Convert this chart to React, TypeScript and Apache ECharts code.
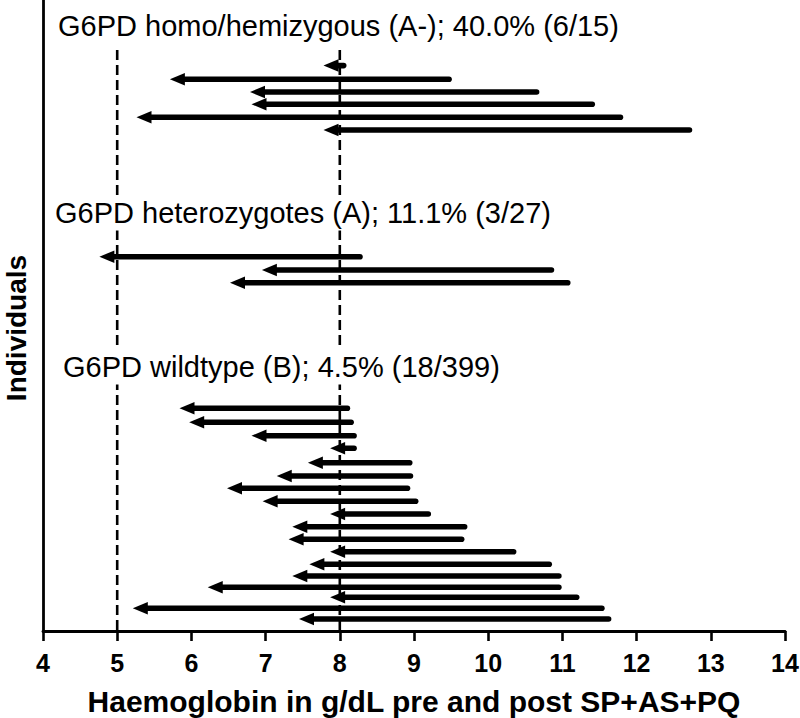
import React, { useEffect, useRef } from "react";
import * as echarts from "echarts";

// Each individual: pre-treatment Hb (arrow tail), post-treatment Hb (arrow head),
// and vertical position of the individual's row (axis units, 0 = x axis).
const homoPost = [7.78, 5.71, 6.79, 6.81, 5.26, 7.78];
const homoPre = [8.09, 9.51, 10.69, 11.44, 11.82, 12.75];
const homoRows = [56.54, 55.17, 53.9, 52.67, 51.37, 50.1];

const hetPost = [4.76, 6.95, 6.52];
const hetPre = [8.31, 10.89, 11.11];
const hetRows = [37.43, 36.1, 34.83];

const wildPost = [5.84, 5.97, 6.81, 7.87, 7.57, 7.15, 6.48, 6.96, 7.87, 7.36, 7.31, 7.87, 7.59, 7.36, 6.22, 7.87, 5.21, 7.45];
const wildPre = [8.14, 8.19, 8.23, 8.23, 8.98, 8.99, 8.95, 9.06, 9.23, 9.72, 9.68, 10.38, 10.86, 10.99, 10.99, 11.23, 11.57, 11.66];
const wildRows = [22.27, 20.87, 19.53, 18.27, 16.83, 15.5, 14.27, 12.97, 11.7, 10.43, 9.17, 7.93, 6.67, 5.5, 4.37, 3.37, 2.27, 1.2];

const groupLabels = [
  "G6PD homo/hemizygous (A-); 40.0% (6/15)",
  "G6PD heterozygotes (A); 11.1% (3/27)",
  "G6PD wildtype (B); 4.5% (18/399)",
];
const thresholds = [5, 8];
const thresholdTop = 58.1;
const xTicks = { min: 4, max: 14, interval: 1 };
const yRange = { min: 0, max: 63.1 };

export default function App() {
  const ref = useRef<HTMLDivElement>(null);
  useEffect(() => {
    if (!ref.current) return;
    const chart = echarts.init(ref.current, null, { renderer: "svg" });
    const rows: number[][] = [];
    const add = (post: number[], pre: number[], ys: number[]) => {
      post.forEach((p, i) => rows.push([pre[i], p, ys[i]]));
    };
    add(homoPost, homoPre, homoRows);
    add(hetPost, hetPre, hetRows);
    add(wildPost, wildPre, wildRows);

    const LW = 5.6;
    const HL = 15;
    const HW = 12.5;
    const FONT = "'Liberation Sans', Arial, sans-serif";

    const labelStyle = (text: string) => ({
      text,
      fill: "#000",
      font: `29px ${FONT}`,
      textVerticalAlign: "middle",
      backgroundColor: "#fff",
      padding: [3, 2, 3, 2],
    });

    const option: any = {
      animation: false,
      grid: { left: 43, right: 15, top: 0, bottom: 87, containLabel: false, outerBoundsMode: "none" },
      xAxis: {
        type: "value",
        min: xTicks.min,
        max: xTicks.max,
        interval: xTicks.interval,
        axisLine: { show: true, lineStyle: { color: "#000", width: 2.8 } },
        axisTick: { show: true, length: 10, lineStyle: { color: "#000", width: 2.6 } },
        axisLabel: {
          color: "#000",
          fontFamily: FONT,
          fontWeight: "bold",
          fontSize: 25,
          margin: 19,
        },
        splitLine: { show: false },
        name: "Haemoglobin in g/dL pre and post SP+AS+PQ",
        nameLocation: "middle",
        nameGap: 55,
        nameTextStyle: {
          color: "#000",
          fontFamily: FONT,
          fontWeight: "bold",
          fontSize: 30,
        },
      },
      yAxis: {
        type: "value",
        min: yRange.min,
        max: yRange.max,
        axisLine: { show: true, lineStyle: { color: "#000", width: 2.8 } },
        axisTick: { show: false },
        axisLabel: { show: false },
        splitLine: { show: false },
      },
      series: [
        ...thresholds.map((t) => ({
          type: "line",
          data: [
            [t, thresholdTop],
            [t, yRange.min],
          ],
          symbol: "none",
          silent: true,
          lineStyle: { color: "#000", width: 2.6, type: [10, 5] },
          z: 1,
        })),
        {
          type: "custom",
          z: 3,
          data: rows,
          renderItem: (params: any, api: any) => {
            const pre = api.value(0);
            const post = api.value(1);
            const y = api.value(2);
            const t = api.coord([pre, y]);
            const h = api.coord([post, y]);
            return {
              type: "group",
              children: [
                {
                  type: "line",
                  shape: { x1: h[0] + HL - 1, y1: h[1], x2: t[0] - LW / 2, y2: t[1] },
                  style: { stroke: "#000", lineWidth: LW, lineCap: "round" },
                },
                {
                  type: "polygon",
                  shape: {
                    points: [
                      [h[0], h[1]],
                      [h[0] + HL, h[1] - HW / 2],
                      [h[0] + HL, h[1] + HW / 2],
                    ],
                  },
                  style: { fill: "#000" },
                },
              ],
            };
          },
        },
      ],
      graphic: [
        { type: "text", x: 56, y: 25.5, z: 10, style: labelStyle(groupLabels[0]) },
        { type: "text", x: 53, y: 213, z: 10, style: labelStyle(groupLabels[1]) },
        { type: "text", x: 61, y: 367, z: 10, style: labelStyle(groupLabels[2]) },
        {
          type: "text",
          x: 16,
          y: 328,
          rotation: Math.PI / 2,
          z: 10,
          style: {
            text: "Individuals",
            fill: "#000",
            font: `bold 28px ${FONT}`,
            textAlign: "center",
            textVerticalAlign: "middle",
          },
        },
      ],
    };
    chart.setOption(option);
    return () => chart.dispose();
  }, []);
  return <div ref={ref} style={{ position: "fixed", left: 0, top: 0, width: 800, height: 718, background: "#fff" }} />;
}
